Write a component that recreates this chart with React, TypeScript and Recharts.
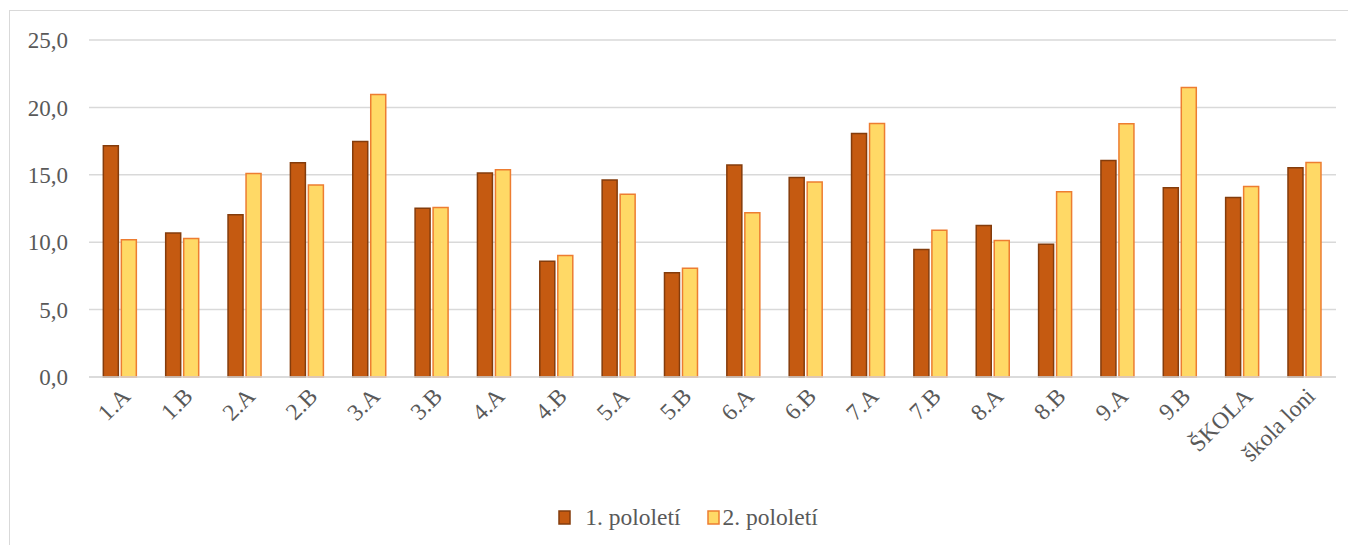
import React from 'react';
import { BarChart, Bar, XAxis, YAxis, CartesianGrid, Legend } from 'recharts';

const CLASSES = ['1.A', '1.B', '2.A', '2.B', '3.A', '3.B', '4.A', '4.B', '5.A', '5.B', '6.A', '6.B', '7.A', '7.B', '8.A', '8.B', '9.A', '9.B', 'ŠKOLA', 'škola loni'];
const FIRST_HALF = [17.15, 10.69, 12.04, 15.89, 17.47, 12.51, 15.13, 8.59, 14.61, 7.73, 15.72, 14.8, 18.06, 9.45, 11.23, 9.85, 16.06, 14.04, 13.32, 15.52];
const SECOND_HALF = [10.19, 10.27, 15.1, 14.24, 20.95, 12.58, 15.37, 9.01, 13.55, 8.07, 12.19, 14.46, 18.8, 10.88, 10.12, 13.75, 18.78, 21.47, 14.14, 15.92];
const Y_TICKS = [0, 5, 10, 15, 20, 25];

const data = CLASSES.map((name, i) => ({ name, first: FIRST_HALF[i], second: SECOND_HALF[i] }));

const FONT = '"Liberation Serif", "Times New Roman", serif';
const TEXT = '#595959';

const XTick = (props: any) => {
  const { x, y, payload } = props;
  return (
    <g transform={`translate(${x},${y + 1})`}>
      <text transform="rotate(-45)" textAnchor="end" dy="0.7em" fill={TEXT} fontSize={23.5} fontFamily={FONT}>
        {payload.value}
      </text>
    </g>
  );
};

// Excel leaves odd gaps between legend swatch and label; copy them
const legendItems = [
  { label: '1. pololetí', fill: '#C55A11', stroke: '#843C0C', gap: 14, right: 26 },
  { label: '2. pololetí', fill: '#FFD966', stroke: '#ED7D31', gap: 3, right: 0 },
];

const LegendContent = () => (
  <div
    style={{
      display: 'flex',
      justifyContent: 'center',
      alignItems: 'center',
      fontFamily: FONT,
      fontSize: 23.5,
      color: TEXT,
      paddingLeft: 30,
    }}
  >
    {legendItems.map((it) => (
      <div key={it.label} style={{ display: 'flex', alignItems: 'center', marginRight: it.right }}>
        <svg width={13} height={15} style={{ marginRight: it.gap }}>
          <rect x={1} y={1} width={11} height={13} fill={it.fill} stroke={it.stroke} strokeWidth={1.5} />
        </svg>
        <span>{it.label}</span>
      </div>
    ))}
  </div>
);

export default function App() {
  return (
    <div
      style={{
        position: 'relative',
        top: 2,
        left: 1,
        width: 1346,
        height: 540,
        borderTop: '1px solid #d9d9d9',
        borderLeft: '1px solid #d9d9d9',
        background: '#fff',
      }}
    >
      <BarChart
        width={1346}
        height={530}
        data={data}
        margin={{ top: 29, right: 20, bottom: 0, left: 0 }}
        barCategoryGap="23%"
        barGap={3}
      >
        <CartesianGrid vertical={false} stroke="#d9d9d9" strokeWidth={1.5} />
        <XAxis
          dataKey="name"
          interval={0}
          height={127}
          tick={<XTick />}
          tickLine={false}
          axisLine={{ stroke: '#d9d9d9', strokeWidth: 1.5 }}
        />
        <YAxis
          domain={[0, 25]}
          ticks={Y_TICKS}
          width={79}
          axisLine={false}
          tickLine={false}
          tickSize={0}
          tickMargin={21}
          tickFormatter={(v: number) => v.toFixed(1).replace('.', ',')}
          tick={{ fill: TEXT, fontSize: 23, fontFamily: FONT }}
        />
        <Legend verticalAlign="bottom" height={37} content={<LegendContent />} />
        <Bar dataKey="first" name="1. pololetí" fill="#C55A11" stroke="#843C0C" strokeWidth={1.5} isAnimationActive={false} />
        <Bar dataKey="second" name="2. pololetí" fill="#FFD966" stroke="#ED7D31" strokeWidth={1.5} isAnimationActive={false} />
      </BarChart>
    </div>
  );
}
